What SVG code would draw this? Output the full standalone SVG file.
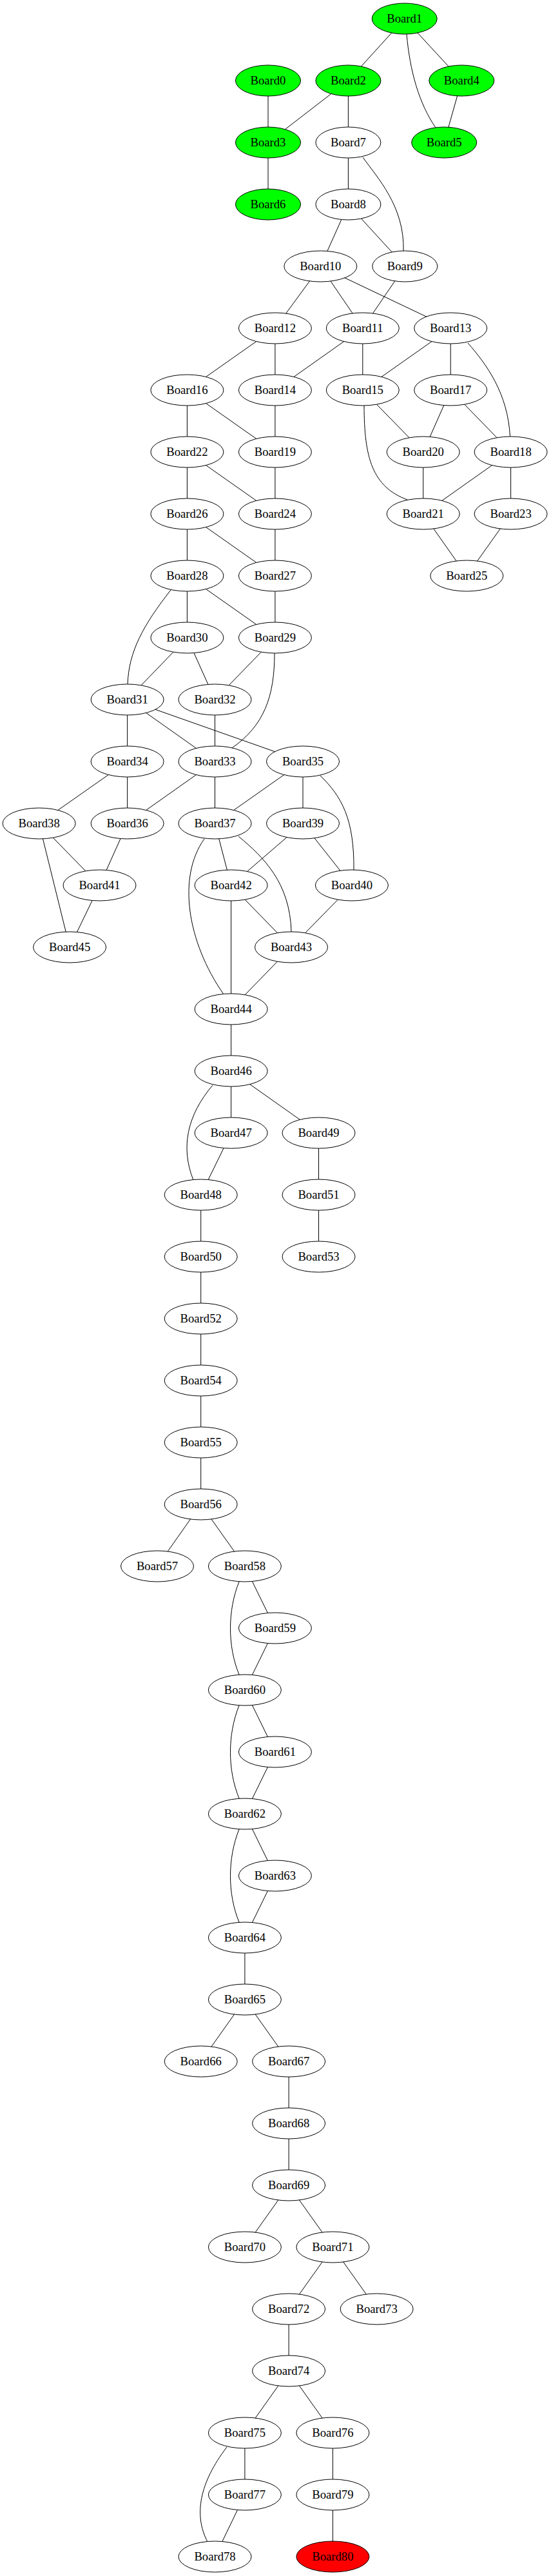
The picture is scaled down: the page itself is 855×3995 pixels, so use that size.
<svg xmlns="http://www.w3.org/2000/svg" width="855" height="3995" viewBox="0 0 855 3995">
<style>
.e{stroke:#000;stroke-width:1;fill:none}
.n ellipse{stroke:#000;stroke-width:1;fill:#fff}
.n.g ellipse{fill:#00ff00}
.n.r ellipse{fill:#ff0000}
.n text{font-family:"Liberation Serif","Times New Roman",serif;font-size:18.67px;text-anchor:middle;fill:#000}
</style>
<rect width="855" height="3995" fill="#fff"/>
<g id="edges">
<path class="e" d="M627.7,29L540.4,125M627.7,29L716.3,125M416,125L416,221M540.4,125L416,221M540.4,125L540.4,221M716.3,125L689.2,221M416,221L416,317M540.4,221L540.4,317M540.4,317L497.3,413M540.4,317L628.3,413M497.3,413L426.9,509M497.3,413L562.8,509M497.3,413L699.2,509M628.3,413L562.8,509"/>
<path class="e" d="M426.9,509L290.4,605M426.9,509L426.9,605M562.8,509L426.9,605M562.8,509L562.8,605M699.2,509L562.8,605M699.2,509L699.2,605M290.4,605L290.4,701M290.4,605L426.9,701M426.9,605L426.9,701M562.8,605L656.7,701M699.2,605L656.7,701M699.2,605L792.6,701M290.4,701L290.4,797M290.4,701L426.9,797M426.9,701L426.9,797M656.7,701L656.7,797M792.6,701L656.7,797M792.6,701L792.6,797M290.4,797L290.4,893M290.4,797L426.9,893M426.9,797L426.9,893M656.7,797L724.3,893M792.6,797L724.3,893M290.4,893L290.4,989M290.4,893L426.9,989M426.9,893L426.9,989"/>
<path class="e" d="M290.4,989L197.6,1085M290.4,989L333.5,1085M426.9,989L333.5,1085M197.6,1085L197.6,1181M197.6,1085L333.5,1181M197.6,1085L470,1181M333.5,1085L333.5,1181M197.6,1181L60.6,1277M197.6,1181L197.6,1277M333.5,1181L197.6,1277M333.5,1181L333.5,1277M470,1181L333.5,1277M470,1181L470,1277M60.6,1277L154.5,1373M60.6,1277L108.1,1469M197.6,1277L154.5,1373M333.5,1277L358.6,1373M470,1277L358.6,1373M470,1277L545.9,1373M154.5,1373L108.1,1469M358.6,1373L452,1469M358.6,1373L358.6,1565M545.9,1373L452,1469M452,1469L358.6,1565"/>
<path class="e" d="M358.6,1565L358.6,1661M358.6,1661L358.6,1757M358.6,1661L494.5,1757M358.6,1757L311.7,1853M494.5,1757L494.5,1853M494.5,1853L494.5,1949M311.7,1853L311.7,1949M311.7,1949L311.7,2045M311.7,2045L311.7,2141M311.7,2141L311.7,2237M311.7,2237L311.7,2333M311.7,2333L244,2429M311.7,2333L379.9,2429M379.9,2429L426.9,2525M426.9,2525L379.9,2621M379.9,2621L426.9,2717M426.9,2717L379.9,2813M379.9,2813L426.9,2909M426.9,2909L379.9,3005M379.9,3005L379.9,3101M379.9,3101L311.7,3197M379.9,3101L448.1,3197M448.1,3197L448.1,3293M448.1,3293L448.1,3389M448.1,3389L379.9,3485M448.1,3389L516.4,3485M516.4,3485L448.1,3581M516.4,3485L584.6,3581M448.1,3581L448.1,3677M448.1,3677L379.9,3773M448.1,3677L516.4,3773M379.9,3773L379.9,3869M379.9,3869L333.5,3965M516.4,3773L516.4,3869M516.4,3869L516.4,3965"/>
<path class="e" d="M631,53C636,110 650,160 676,198"/>
<path class="e" d="M563,244C585,275 628,320 626,389"/>
<path class="e" d="M726,532C755,565 788,610 791.5,677"/>
<path class="e" d="M565,629C565,710 578,755 632,775"/>
<path class="e" d="M265,915C222,970 200,1010 198,1061"/>
<path class="e" d="M426,1013C426,1080 410,1125 360,1160"/>
<path class="e" d="M497,1203C530,1235 550,1270 549,1350"/>
<path class="e" d="M370,1297C410,1330 450,1370 452,1445"/>
<path class="e" d="M317,1301C275,1360 290,1460 347,1542"/>
<path class="e" d="M330,1683C290,1730 280,1780 300,1830"/>
<path class="e" d="M371,2453C353,2498 353,2553 371,2597"/>
<path class="e" d="M371,2645C353,2690 353,2745 371,2789"/>
<path class="e" d="M371,2837C353,2882 353,2937 371,2981"/>
<path class="e" d="M352,3795C310,3850 300,3900 322,3942"/>
</g>
<g id="Board0" class="n g"><ellipse cx="416" cy="125" rx="50.5" ry="24"/><text x="416" y="130.5">Board0</text></g>
<g id="Board1" class="n g"><ellipse cx="627.7" cy="29" rx="50.5" ry="24"/><text x="627.7" y="34.5">Board1</text></g>
<g id="Board2" class="n g"><ellipse cx="540.4" cy="125" rx="50.5" ry="24"/><text x="540.4" y="130.5">Board2</text></g>
<g id="Board3" class="n g"><ellipse cx="416" cy="221" rx="50.5" ry="24"/><text x="416" y="226.5">Board3</text></g>
<g id="Board4" class="n g"><ellipse cx="716.3" cy="125" rx="50.5" ry="24"/><text x="716.3" y="130.5">Board4</text></g>
<g id="Board5" class="n g"><ellipse cx="689.2" cy="221" rx="50.5" ry="24"/><text x="689.2" y="226.5">Board5</text></g>
<g id="Board6" class="n g"><ellipse cx="416" cy="317" rx="50.5" ry="24"/><text x="416" y="322.5">Board6</text></g>
<g id="Board7" class="n"><ellipse cx="540.4" cy="221" rx="50.5" ry="24"/><text x="540.4" y="226.5">Board7</text></g>
<g id="Board8" class="n"><ellipse cx="540.4" cy="317" rx="50.5" ry="24"/><text x="540.4" y="322.5">Board8</text></g>
<g id="Board9" class="n"><ellipse cx="628.3" cy="413" rx="50.5" ry="24"/><text x="628.3" y="418.5">Board9</text></g>
<g id="Board10" class="n"><ellipse cx="497.3" cy="413" rx="56.5" ry="24"/><text x="497.3" y="418.5">Board10</text></g>
<g id="Board11" class="n"><ellipse cx="562.8" cy="509" rx="56.5" ry="24"/><text x="562.8" y="514.5">Board11</text></g>
<g id="Board12" class="n"><ellipse cx="426.9" cy="509" rx="56.5" ry="24"/><text x="426.9" y="514.5">Board12</text></g>
<g id="Board13" class="n"><ellipse cx="699.2" cy="509" rx="56.5" ry="24"/><text x="699.2" y="514.5">Board13</text></g>
<g id="Board14" class="n"><ellipse cx="426.9" cy="605" rx="56.5" ry="24"/><text x="426.9" y="610.5">Board14</text></g>
<g id="Board15" class="n"><ellipse cx="562.8" cy="605" rx="56.5" ry="24"/><text x="562.8" y="610.5">Board15</text></g>
<g id="Board16" class="n"><ellipse cx="290.4" cy="605" rx="56.5" ry="24"/><text x="290.4" y="610.5">Board16</text></g>
<g id="Board17" class="n"><ellipse cx="699.2" cy="605" rx="56.5" ry="24"/><text x="699.2" y="610.5">Board17</text></g>
<g id="Board18" class="n"><ellipse cx="792.6" cy="701" rx="56.5" ry="24"/><text x="792.6" y="706.5">Board18</text></g>
<g id="Board19" class="n"><ellipse cx="426.9" cy="701" rx="56.5" ry="24"/><text x="426.9" y="706.5">Board19</text></g>
<g id="Board20" class="n"><ellipse cx="656.7" cy="701" rx="56.5" ry="24"/><text x="656.7" y="706.5">Board20</text></g>
<g id="Board21" class="n"><ellipse cx="656.7" cy="797" rx="56.5" ry="24"/><text x="656.7" y="802.5">Board21</text></g>
<g id="Board22" class="n"><ellipse cx="290.4" cy="701" rx="56.5" ry="24"/><text x="290.4" y="706.5">Board22</text></g>
<g id="Board23" class="n"><ellipse cx="792.6" cy="797" rx="56.5" ry="24"/><text x="792.6" y="802.5">Board23</text></g>
<g id="Board24" class="n"><ellipse cx="426.9" cy="797" rx="56.5" ry="24"/><text x="426.9" y="802.5">Board24</text></g>
<g id="Board25" class="n"><ellipse cx="724.3" cy="893" rx="56.5" ry="24"/><text x="724.3" y="898.5">Board25</text></g>
<g id="Board26" class="n"><ellipse cx="290.4" cy="797" rx="56.5" ry="24"/><text x="290.4" y="802.5">Board26</text></g>
<g id="Board27" class="n"><ellipse cx="426.9" cy="893" rx="56.5" ry="24"/><text x="426.9" y="898.5">Board27</text></g>
<g id="Board28" class="n"><ellipse cx="290.4" cy="893" rx="56.5" ry="24"/><text x="290.4" y="898.5">Board28</text></g>
<g id="Board29" class="n"><ellipse cx="426.9" cy="989" rx="56.5" ry="24"/><text x="426.9" y="994.5">Board29</text></g>
<g id="Board30" class="n"><ellipse cx="290.4" cy="989" rx="56.5" ry="24"/><text x="290.4" y="994.5">Board30</text></g>
<g id="Board31" class="n"><ellipse cx="197.6" cy="1085" rx="56.5" ry="24"/><text x="197.6" y="1090.5">Board31</text></g>
<g id="Board32" class="n"><ellipse cx="333.5" cy="1085" rx="56.5" ry="24"/><text x="333.5" y="1090.5">Board32</text></g>
<g id="Board33" class="n"><ellipse cx="333.5" cy="1181" rx="56.5" ry="24"/><text x="333.5" y="1186.5">Board33</text></g>
<g id="Board34" class="n"><ellipse cx="197.6" cy="1181" rx="56.5" ry="24"/><text x="197.6" y="1186.5">Board34</text></g>
<g id="Board35" class="n"><ellipse cx="470" cy="1181" rx="56.5" ry="24"/><text x="470" y="1186.5">Board35</text></g>
<g id="Board36" class="n"><ellipse cx="197.6" cy="1277" rx="56.5" ry="24"/><text x="197.6" y="1282.5">Board36</text></g>
<g id="Board37" class="n"><ellipse cx="333.5" cy="1277" rx="56.5" ry="24"/><text x="333.5" y="1282.5">Board37</text></g>
<g id="Board38" class="n"><ellipse cx="60.6" cy="1277" rx="56.5" ry="24"/><text x="60.6" y="1282.5">Board38</text></g>
<g id="Board39" class="n"><ellipse cx="470" cy="1277" rx="56.5" ry="24"/><text x="470" y="1282.5">Board39</text></g>
<g id="Board40" class="n"><ellipse cx="545.9" cy="1373" rx="56.5" ry="24"/><text x="545.9" y="1378.5">Board40</text></g>
<g id="Board41" class="n"><ellipse cx="154.5" cy="1373" rx="56.5" ry="24"/><text x="154.5" y="1378.5">Board41</text></g>
<g id="Board42" class="n"><ellipse cx="358.6" cy="1373" rx="56.5" ry="24"/><text x="358.6" y="1378.5">Board42</text></g>
<g id="Board43" class="n"><ellipse cx="452" cy="1469" rx="56.5" ry="24"/><text x="452" y="1474.5">Board43</text></g>
<g id="Board44" class="n"><ellipse cx="358.6" cy="1565" rx="56.5" ry="24"/><text x="358.6" y="1570.5">Board44</text></g>
<g id="Board45" class="n"><ellipse cx="108.1" cy="1469" rx="56.5" ry="24"/><text x="108.1" y="1474.5">Board45</text></g>
<g id="Board46" class="n"><ellipse cx="358.6" cy="1661" rx="56.5" ry="24"/><text x="358.6" y="1666.5">Board46</text></g>
<g id="Board47" class="n"><ellipse cx="358.6" cy="1757" rx="56.5" ry="24"/><text x="358.6" y="1762.5">Board47</text></g>
<g id="Board48" class="n"><ellipse cx="311.7" cy="1853" rx="56.5" ry="24"/><text x="311.7" y="1858.5">Board48</text></g>
<g id="Board49" class="n"><ellipse cx="494.5" cy="1757" rx="56.5" ry="24"/><text x="494.5" y="1762.5">Board49</text></g>
<g id="Board50" class="n"><ellipse cx="311.7" cy="1949" rx="56.5" ry="24"/><text x="311.7" y="1954.5">Board50</text></g>
<g id="Board51" class="n"><ellipse cx="494.5" cy="1853" rx="56.5" ry="24"/><text x="494.5" y="1858.5">Board51</text></g>
<g id="Board52" class="n"><ellipse cx="311.7" cy="2045" rx="56.5" ry="24"/><text x="311.7" y="2050.5">Board52</text></g>
<g id="Board53" class="n"><ellipse cx="494.5" cy="1949" rx="56.5" ry="24"/><text x="494.5" y="1954.5">Board53</text></g>
<g id="Board54" class="n"><ellipse cx="311.7" cy="2141" rx="56.5" ry="24"/><text x="311.7" y="2146.5">Board54</text></g>
<g id="Board55" class="n"><ellipse cx="311.7" cy="2237" rx="56.5" ry="24"/><text x="311.7" y="2242.5">Board55</text></g>
<g id="Board56" class="n"><ellipse cx="311.7" cy="2333" rx="56.5" ry="24"/><text x="311.7" y="2338.5">Board56</text></g>
<g id="Board57" class="n"><ellipse cx="244" cy="2429" rx="56.5" ry="24"/><text x="244" y="2434.5">Board57</text></g>
<g id="Board58" class="n"><ellipse cx="379.9" cy="2429" rx="56.5" ry="24"/><text x="379.9" y="2434.5">Board58</text></g>
<g id="Board59" class="n"><ellipse cx="426.9" cy="2525" rx="56.5" ry="24"/><text x="426.9" y="2530.5">Board59</text></g>
<g id="Board60" class="n"><ellipse cx="379.9" cy="2621" rx="56.5" ry="24"/><text x="379.9" y="2626.5">Board60</text></g>
<g id="Board61" class="n"><ellipse cx="426.9" cy="2717" rx="56.5" ry="24"/><text x="426.9" y="2722.5">Board61</text></g>
<g id="Board62" class="n"><ellipse cx="379.9" cy="2813" rx="56.5" ry="24"/><text x="379.9" y="2818.5">Board62</text></g>
<g id="Board63" class="n"><ellipse cx="426.9" cy="2909" rx="56.5" ry="24"/><text x="426.9" y="2914.5">Board63</text></g>
<g id="Board64" class="n"><ellipse cx="379.9" cy="3005" rx="56.5" ry="24"/><text x="379.9" y="3010.5">Board64</text></g>
<g id="Board65" class="n"><ellipse cx="379.9" cy="3101" rx="56.5" ry="24"/><text x="379.9" y="3106.5">Board65</text></g>
<g id="Board66" class="n"><ellipse cx="311.7" cy="3197" rx="56.5" ry="24"/><text x="311.7" y="3202.5">Board66</text></g>
<g id="Board67" class="n"><ellipse cx="448.1" cy="3197" rx="56.5" ry="24"/><text x="448.1" y="3202.5">Board67</text></g>
<g id="Board68" class="n"><ellipse cx="448.1" cy="3293" rx="56.5" ry="24"/><text x="448.1" y="3298.5">Board68</text></g>
<g id="Board69" class="n"><ellipse cx="448.1" cy="3389" rx="56.5" ry="24"/><text x="448.1" y="3394.5">Board69</text></g>
<g id="Board70" class="n"><ellipse cx="379.9" cy="3485" rx="56.5" ry="24"/><text x="379.9" y="3490.5">Board70</text></g>
<g id="Board71" class="n"><ellipse cx="516.4" cy="3485" rx="56.5" ry="24"/><text x="516.4" y="3490.5">Board71</text></g>
<g id="Board72" class="n"><ellipse cx="448.1" cy="3581" rx="56.5" ry="24"/><text x="448.1" y="3586.5">Board72</text></g>
<g id="Board73" class="n"><ellipse cx="584.6" cy="3581" rx="56.5" ry="24"/><text x="584.6" y="3586.5">Board73</text></g>
<g id="Board74" class="n"><ellipse cx="448.1" cy="3677" rx="56.5" ry="24"/><text x="448.1" y="3682.5">Board74</text></g>
<g id="Board75" class="n"><ellipse cx="379.9" cy="3773" rx="56.5" ry="24"/><text x="379.9" y="3778.5">Board75</text></g>
<g id="Board76" class="n"><ellipse cx="516.4" cy="3773" rx="56.5" ry="24"/><text x="516.4" y="3778.5">Board76</text></g>
<g id="Board77" class="n"><ellipse cx="379.9" cy="3869" rx="56.5" ry="24"/><text x="379.9" y="3874.5">Board77</text></g>
<g id="Board78" class="n"><ellipse cx="333.5" cy="3965" rx="56.5" ry="24"/><text x="333.5" y="3970.5">Board78</text></g>
<g id="Board79" class="n"><ellipse cx="516.4" cy="3869" rx="56.5" ry="24"/><text x="516.4" y="3874.5">Board79</text></g>
<g id="Board80" class="n r"><ellipse cx="516.4" cy="3965" rx="56.5" ry="24"/><text x="516.4" y="3970.5">Board80</text></g>
</svg>
